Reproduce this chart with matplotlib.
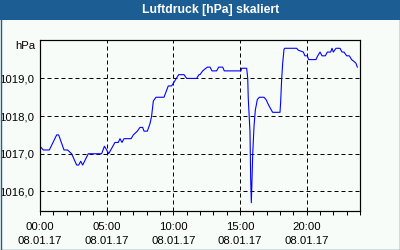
"""
Luftdruck chart (08.01.17), redrawn with matplotlib
"""
import matplotlib
matplotlib.use("Agg")
import matplotlib.pyplot as plt
from matplotlib.patches import Rectangle
from matplotlib.ticker import MultipleLocator

# Data: hours since 00:00 and pressure in hPa
hours = [0.0, 0.25, 0.7, 1.25, 1.4, 1.8, 2.07, 2.37, 2.75, 2.9, 3.05, 3.2,
         3.62, 4.62, 4.83, 5.0, 5.15, 5.62, 5.87, 6.0, 6.15, 6.3, 6.83, 7.0,
         7.3, 7.5, 7.7, 7.8, 8.05, 8.25, 8.37, 8.5, 8.7, 9.3, 9.62, 9.87,
         10.05, 10.4, 10.8, 11.0, 11.75, 11.92, 12.0, 12.2, 12.55, 12.75,
         12.9, 13.25, 13.4, 13.7, 13.82, 15.07, 15.13, 15.5, 15.58, 15.62,
         15.75, 15.8, 15.85, 15.9, 15.95, 16.05, 16.15, 16.3, 16.45, 16.8,
         16.95, 17.15, 17.35, 17.45, 18.0, 18.05, 18.12, 18.2, 18.3, 18.35,
         19.25, 19.37, 19.75, 19.87, 20.05, 20.15, 20.7, 20.8, 21.0, 21.15,
         21.4, 21.55, 21.8, 21.9, 22.0, 22.2, 22.5, 22.65, 22.8, 23.0, 23.2,
         23.37, 23.55, 23.7, 23.8]
pressure = [1017.2, 1017.1, 1017.1, 1017.5, 1017.5, 1017.1, 1017.1, 1017.0,
            1016.7, 1016.7, 1016.8, 1016.7, 1017.0, 1017.0, 1017.2, 1017.1,
            1017.0, 1017.3, 1017.3, 1017.4, 1017.3, 1017.4, 1017.4, 1017.5,
            1017.6, 1017.7, 1017.7, 1017.6, 1017.6, 1017.8, 1018.0, 1018.4,
            1018.5, 1018.5, 1018.8, 1018.8, 1018.9, 1019.1, 1019.1, 1019.0,
            1019.0, 1019.1, 1019.1, 1019.2, 1019.3, 1019.3, 1019.2, 1019.2,
            1019.3, 1019.3, 1019.2, 1019.2, 1019.27, 1019.27, 1019.0, 1018.47,
            1017.58, 1016.35, 1015.7, 1016.3, 1016.96, 1017.72, 1018.16,
            1018.44, 1018.5, 1018.5, 1018.44, 1018.29, 1018.16, 1018.1,
            1018.1, 1018.38, 1018.95, 1019.4, 1019.77, 1019.8, 1019.8,
            1019.75, 1019.7, 1019.6, 1019.6, 1019.5, 1019.5, 1019.58, 1019.7,
            1019.6, 1019.6, 1019.7, 1019.7, 1019.8, 1019.7, 1019.8, 1019.8,
            1019.7, 1019.7, 1019.6, 1019.6, 1019.5, 1019.45, 1019.4, 1019.3]

x_ticks = [0, 5, 10, 15, 20]
x_labels = ["00:00\n08.01.17", "05:00\n08.01.17", "10:00\n08.01.17",
            "15:00\n08.01.17", "20:00\n08.01.17"]
y_ticks = [1016, 1017, 1018, 1019]
y_labels = ["1016,0", "1017,0", "1018,0", "1019,0"]

title = "Luftdruck [hPa] skaliert"
unit = "hPa"

bg = "#f8fcf8"
frame_blue = "#1c5e93"
px = 0.72  # one pixel in points at dpi 100

plt.rcParams["font.family"] = ["Liberation Sans", "DejaVu Sans"]
plt.rcParams["font.size"] = 8.2

fig = plt.figure(figsize=(4, 2.5), dpi=100, facecolor=bg)

# Title bar and outer border
fig.patches.append(Rectangle((0, 230 / 250), 1, 20 / 250, transform=fig.transFigure,
                             facecolor=frame_blue, edgecolor="none", zorder=0))
fig.patches.append(Rectangle((0.5 / 400, 0.5 / 250), 399 / 400, 249 / 250,
                             transform=fig.transFigure, facecolor="none",
                             edgecolor=frame_blue, linewidth=1.4 * px, zorder=1))
fig.text(211 / 400, 1 - 10 / 250, title, color="white", fontweight="bold",
         fontsize=8.8, ha="center", va="center")

ax = fig.add_axes([40 / 400, 39 / 250, 320 / 400, 171 / 250])
ax.set_facecolor(bg)
ax.plot(hours, pressure, color="#0000ff", linewidth=1.1 * px)

ax.set_xlim(0, 24)
ax.set_ylim(1015.48, 1020.02)

ax.set_xticks(x_ticks)
ax.set_xticklabels(x_labels, linespacing=1.5)
ax.xaxis.set_minor_locator(MultipleLocator(1))
ax.set_yticks(y_ticks)
ax.set_yticklabels(y_labels)

ax.tick_params(axis="x", which="both", direction="out", length=3,
               width=px, color="black", pad=5)
ax.tick_params(axis="y", which="both", length=0, pad=4)

ax.grid(True, which="major", color="black", linestyle=(0, (4, 3)),
        linewidth=px)
ax.set_axisbelow(True)

for side in ax.spines.values():
    side.set_color("black")
    side.set_linewidth(1.2 * px)

ax.text(-0.013, 1 - 6 / 171, unit, transform=ax.transAxes,
        ha="right", va="center")

fig.savefig("out.png", dpi=100, facecolor=bg)
